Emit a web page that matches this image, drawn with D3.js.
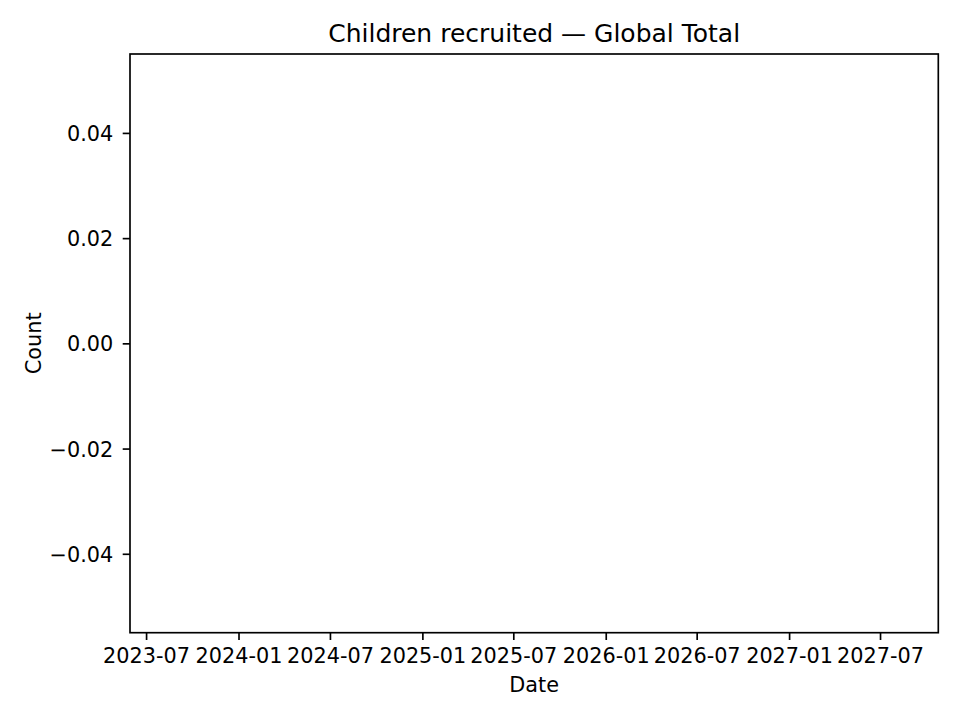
<!DOCTYPE html>
<html>
<head>
<meta charset="utf-8">
<script src="https://cdn.jsdelivr.net/npm/d3@7"></script>
<style>
  html, body { margin: 0; padding: 0; background: #fff; }
  svg { display: block; }
  text { font-family: "DejaVu Sans", sans-serif; fill: #000; }
</style>
</head>
<body>
<svg id="chart" width="960" height="720"></svg>
<script>
// ---- data (the reference chart has no plotted values) ----
const dates = [];          // observation dates
const counts = [];         // children recruited, global total
const xTickLabels = ["2023-07","2024-01","2024-07","2025-01","2025-07","2026-01","2026-07","2027-01","2027-07"];
const yTickValues = [-0.04, -0.02, 0.00, 0.02, 0.04];
const xDomain = ["2023-05-30", "2027-10-25"];
const yDomain = [-0.055, 0.055];
const titleText = "Children recruited — Global Total";
const xLabelText = "Date";
const yLabelText = "Count";

// ---- layout ----
const W = 960, H = 720;
const m = { left: 130, right: 938.3, top: 54, bottom: 632.7 };
const parse = d3.utcParse("%Y-%m-%d");
const parseTick = d3.utcParse("%Y-%m");

const svg = d3.select("#chart");
svg.append("rect").attr("width", W).attr("height", H).attr("fill", "#fff");

const x = d3.scaleUtc().domain(xDomain.map(parse)).range([m.left, m.right]);
const y = d3.scaleLinear().domain(yDomain).range([m.bottom, m.top]);

// line (empty)
const line = d3.line().x((d, i) => x(parse(dates[i]))).y(d => y(d));
svg.append("path").datum(counts).attr("d", line(counts) || null)
  .attr("fill", "none").attr("stroke", "#1f77b4").attr("stroke-width", 3);

// x axis
const xAxis = d3.axisBottom(x)
  .tickValues(xTickLabels.map(parseTick))
  .tickFormat(d3.utcFormat("%Y-%m"))
  .tickSize(7.3).tickPadding(7.3);
const gx = svg.append("g").attr("transform", `translate(0,${m.bottom})`).call(xAxis);
gx.select(".domain").remove();
gx.selectAll(".tick line").attr("stroke", "#000").attr("stroke-width", 1.67);
gx.selectAll(".tick text").attr("font-size", 20.8).attr("dy", null)
  .attr("y", 663.3 - m.bottom).attr("fill", "#000")
  .style("font-family", "'DejaVu Sans', sans-serif");

// y axis
const yAxis = d3.axisLeft(y)
  .tickValues(yTickValues)
  .tickFormat(d3.format(".2f"))
  .tickSize(7.3).tickPadding(7.3);
const gy = svg.append("g").attr("transform", `translate(${m.left},0)`).call(yAxis);
gy.select(".domain").remove();
gy.selectAll(".tick line").attr("stroke", "#000").attr("stroke-width", 1.67);
gy.selectAll(".tick text").attr("font-size", 20.8).attr("dy", "0.36em")
  .attr("x", -16.7).attr("fill", "#000")
  .style("font-family", "'DejaVu Sans', sans-serif");

// frame (spines)
svg.append("rect")
  .attr("x", m.left).attr("y", m.top)
  .attr("width", m.right - m.left).attr("height", m.bottom - m.top)
  .attr("fill", "none").attr("stroke", "#000").attr("stroke-width", 1.67);

// title & labels
const cx = (m.left + m.right) / 2;
svg.append("text").attr("x", cx).attr("y", 42.3).attr("text-anchor", "middle")
  .attr("font-size", 25).text(titleText);
svg.append("text").attr("x", cx).attr("y", 691.7).attr("text-anchor", "middle")
  .attr("font-size", 20.8).text(xLabelText);
svg.append("text").attr("transform", `translate(41.2,${(m.top + m.bottom) / 2}) rotate(-90)`)
  .attr("text-anchor", "middle").attr("font-size", 20.8).text(yLabelText);
</script>
</body>
</html>
